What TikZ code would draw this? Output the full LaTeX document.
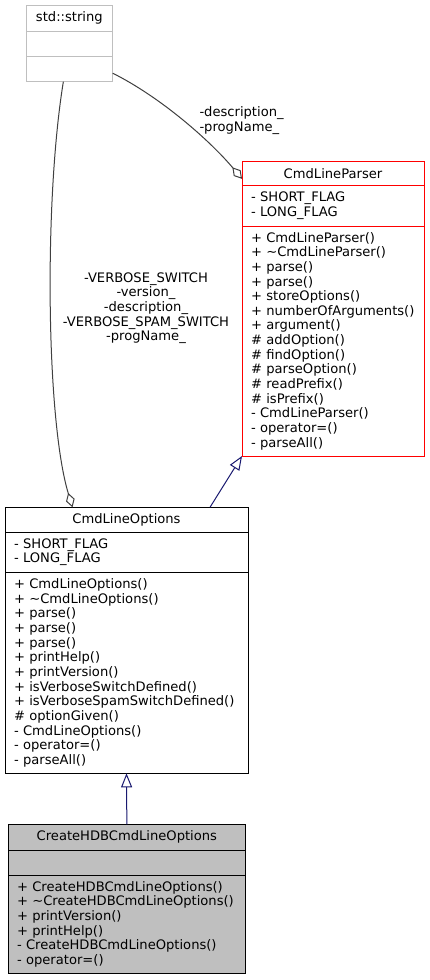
\documentclass[tikz,border=0pt]{standalone}
\usepackage{fontspec}
\setmainfont{DejaVu Sans}
\usepackage{tikz}
\usetikzlibrary{positioning, arrows.meta}
\definecolor{doxy_grey}{HTML}{BFBFBF}
\definecolor{doxy_edge}{HTML}{404040}
\definecolor{doxy_blue}{HTML}{191970}
\tikzstyle{part} = [rectangle, draw=black, line width=0.9pt, inner xsep=9pt, inner ysep=2pt, outer sep=0pt, font=\fontsize{13.1}{14.65}\selectfont]
\tikzstyle{head} = [part, align=center]
\tikzstyle{body} = [part, align=left]
\tikzstyle{lbl} = [inner sep=0pt, font=\fontsize{13.1}{14.65}\selectfont]
\tikzstyle{aggr} = [doxy_edge, line width=1pt, -{Diamond[open, length=15pt, width=9pt]}]
\tikzstyle{inherit} = [doxy_blue, line width=1pt, -{Triangle[open, length=14pt, width=11pt]}]

\begin{document}
\begin{tikzpicture}[x=1pt, y=-1pt]
    \path[use as bounding box, fill=white] (0,0) rectangle (430,980);
    % std::string
    \node (strt) [head, draw=doxy_grey, text width=68.7pt, minimum height=25.3pt, anchor=north west] at (26,5.7) {std::string};
    \node (stra) [body, draw=doxy_grey, text width=68.7pt, minimum height=25.7pt, below=0pt of strt] {};
    \node (strm) [body, draw=doxy_grey, text width=68.7pt, minimum height=25pt, below=0pt of stra] {};
    % CmdLineParser
    \node (prst) [head, draw=red, text width=164pt, minimum height=24.7pt, anchor=north west] at (242,161) {CmdLineParser};
    \node (prsa) [body, draw=red, text width=164pt, minimum height=40.3pt, below=0pt of prst] {- SHORT\_FLAG\\- LONG\_FLAG};
    \node (prsm) [body, draw=red, text width=164pt, minimum height=230pt, below=0pt of prsa] {+ CmdLineParser()\\+ \textasciitilde CmdLineParser()\\+ parse()\\+ parse()\\+ storeOptions()\\+ numberOfArguments()\\+ argument()\\\# addOption()\\\# findOption()\\\# parseOption()\\\# readPrefix()\\\# isPrefix()\\- CmdLineParser()\\- operator=()\\- parseAll()};
    % CmdLineOptions
    \node (optt) [head, text width=225pt, minimum height=25pt, anchor=north west] at (5,507.3) {CmdLineOptions};
    \node (opta) [body, text width=225pt, minimum height=40pt, below=0pt of optt] {- SHORT\_FLAG\\- LONG\_FLAG};
    \node (optm) [body, text width=225pt, minimum height=201pt, below=0pt of opta] {+ CmdLineOptions()\\+ \textasciitilde CmdLineOptions()\\+ parse()\\+ parse()\\+ parse()\\+ printHelp()\\+ printVersion()\\+ isVerboseSwitchDefined()\\+ isVerboseSpamSwitchDefined()\\\# optionGiven()\\- CmdLineOptions()\\- operator=()\\- parseAll()};
    % CreateHDBCmdLineOptions
    \node (crtt) [head, fill=doxy_grey, text width=219.7pt, minimum height=25.7pt, anchor=north west] at (8,824.3) {CreateHDBCmdLineOptions};
    \node (crta) [body, fill=doxy_grey, text width=219.7pt, minimum height=25.3pt, below=0pt of crtt] {};
    \node (crtm) [body, fill=doxy_grey, text width=219.7pt, minimum height=98pt, below=0pt of crta] {+ CreateHDBCmdLineOptions()\\+ \textasciitilde CreateHDBCmdLineOptions()\\+ printVersion()\\+ printHelp()\\- CreateHDBCmdLineOptions()\\- operator=()};
    % edges
    \draw [aggr] ([yshift=-4pt]strm.east) .. controls (162.7,98.2) and (212,142.9) .. ([yshift=-5.5pt]prst.west);
    \draw [aggr] ([xshift=-6pt]strm.south) .. controls (44,200) and (46,420) .. ([xshift=-54pt]optt.north);
    \draw [inherit] ([xshift=83.5pt]optt.north) -- (prsm.south west);
    \draw [inherit] (crtt.north) -- (optm.south);
    % labels
    \node (lblprs) [lbl, align=left, anchor=west] at (199.3,120.4) {-description\_\\-progName\_};
    \node (lblopt) [lbl, align=center] at (146,308.3) {-VERBOSE\_SWITCH\\-version\_\\-description\_\\-VERBOSE\_SPAM\_SWITCH\\-progName\_};
\end{tikzpicture}
\end{document}
